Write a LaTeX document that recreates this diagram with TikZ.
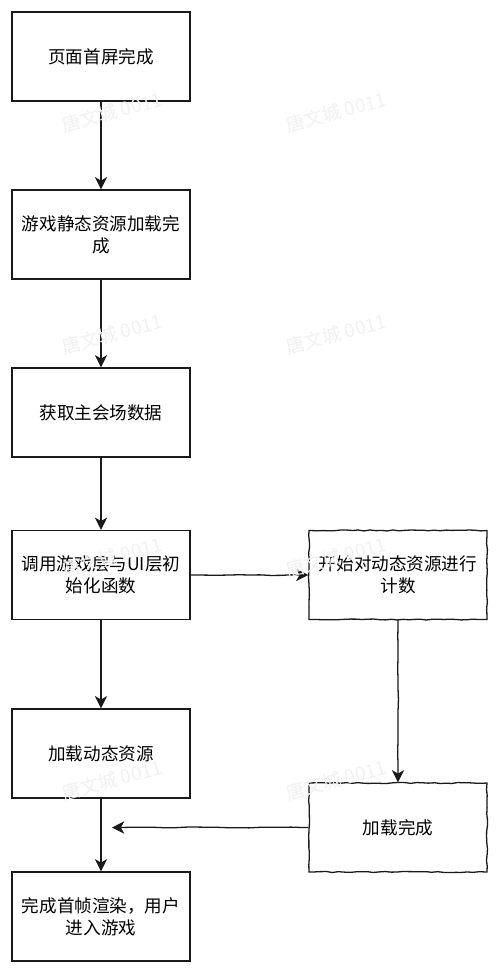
\documentclass[tikz,border=0pt]{standalone}
\usepackage{fontspec}
\setmainfont{Noto Sans CJK SC}
\usetikzlibrary{arrows.meta,decorations.pathmorphing}
\begin{document}
\begin{tikzpicture}[x=0.03cm,y=-0.03cm,font=\fontsize{15}{18.5}\selectfont]
\definecolor{cline}{HTML}{1A1A1A}\definecolor{cwater}{HTML}{F1F1F1}
\tikzset{stepbox/.style={draw=cline,line width=1.1pt,fill=white,minimum width=5.34cm,minimum height=2.67cm,align=center,inner sep=2pt},
 sketch/.style={decorate,decoration={random steps,segment length=5pt,amplitude=0.45pt}},
 sketchline/.style={decorate,decoration={random steps,segment length=9pt,amplitude=0.4pt,pre length=5pt,post length=5pt}},
 flow/.style={draw=cline,line width=1.1pt,-{Stealth[length=10.5pt,width=10.5pt,inset=3pt]}},
 wmark/.style={text=cwater,rotate=15,font=\fontsize{16}{16}\selectfont}}
\pgfmathsetseed{11}
\fill[white] (0,0) rectangle (500,974);
\useasboundingbox (0,0) rectangle (500,974);
% steps
\node[stepbox] (shouping) at (101,56.5) {页面首屏完成};
\node[stepbox] (jingtai) at (101,234.5) {游戏静态资源加载完\\成};
\node[stepbox] (zhuhuichang) at (101,412.5) {获取主会场数据};
\node[stepbox] (chushihua) at (101,575) {调用游戏层与UI层初\\始化函数};
\node[stepbox,sketch] (jishu) at (398,575) {开始对动态资源进行\\计数};
\node[stepbox] (dongtai) at (101,753.5) {加载动态资源};
\node[stepbox,sketch] (wancheng) at (398,827.5) {加载完成};
\node[stepbox] (shouzhen) at (101,916.5) {完成首帧渲染，用户\\进入游戏};
\coordinate (merge) at (112,827.5);
% arrows
\draw[flow] (shouping) -- (jingtai);
\draw[flow] (jingtai) -- (zhuhuichang);
\draw[flow] (zhuhuichang) -- (chushihua);
\draw[flow] (chushihua) -- (dongtai);
\draw[flow] (dongtai) -- (shouzhen);
\draw[flow,sketchline] (chushihua) -- (jishu);
\draw[flow,sketchline] (jishu) -- (wancheng);
\draw[flow,sketchline] (wancheng) -- (merge);
% watermarks
\foreach \wx in {112,336}{\foreach \wy in {112,334,557,780}{
 \node[wmark] (wm-\wx-\wy) at (\wx,\wy) {唐文城 0011};}}
\end{tikzpicture}
\end{document}
